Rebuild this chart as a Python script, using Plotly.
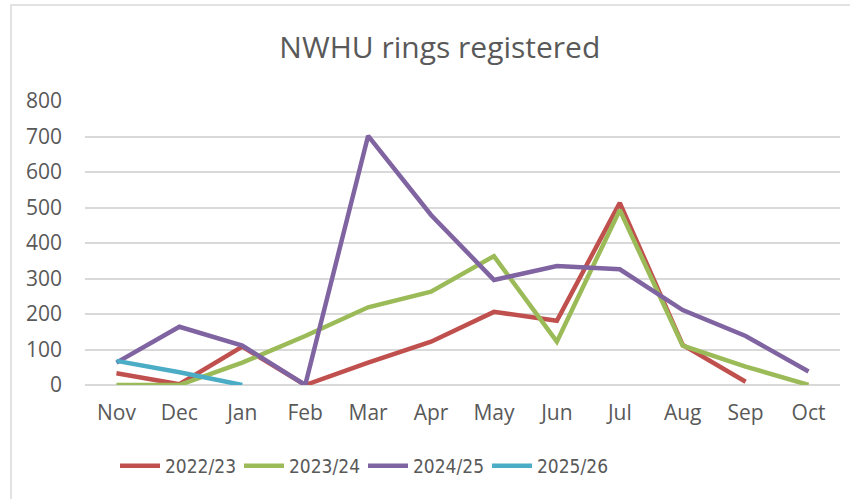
import plotly.graph_objects as go

months = ["Nov", "Dec", "Jan", "Feb", "Mar", "Apr", "May", "Jun", "Jul", "Aug", "Sep", "Oct"]
s2022 = [33, 2, 108, 0, 63, 122, 206, 181, 513, 113, 9, None]
s2023 = [0, 0, 63, 138, 219, 263, 363, 122, 493, 111, 52, 0]
s2024 = [63, 164, 111, 0, 702, 479, 296, 335, 326, 211, 138, 38]
s2025 = [68, 36, 0, None, None, None, None, None, None, None, None, None]

names = ["2022/23", "2023/24", "2024/25", "2025/26"]
colors = ["#C0504D", "#9BBB59", "#8064A2", "#4BACC6"]
series = [s2022, s2023, s2024, s2025]

FONT = "Open Sans, Lato, sans-serif"
LEGFONT = "Liberation Sans Narrow, DejaVu Sans Condensed, Open Sans, sans-serif"

fig = go.Figure()
for n, c, s in zip(names, colors, series):
    fig.add_trace(go.Scatter(x=months, y=s, name=n, mode="lines",
                             line=dict(color=c, width=4.5), connectgaps=False))

fig.update_layout(
    width=850, height=499,
    margin=dict(l=85, r=10, t=101, b=114, autoexpand=False),
    paper_bgcolor="white", plot_bgcolor="white",
    font=dict(family=FONT, color="#595959", size=21),
    title=dict(text="NWHU rings registered", x=0.47, xref="paper", xanchor="center",
               y=1 - 47 / 499, yref="container", yanchor="middle",
               font=dict(size=30, color="#595959", family=FONT)),
    xaxis=dict(range=[-0.5, 11.5], showgrid=False, showline=False, ticks="",
               tickfont=dict(size=21, color="#595959"), ticklabelstandoff=13),
    yaxis=dict(range=[0, 800], dtick=100, showgrid=True, gridcolor="#D9D9D9", gridwidth=1.5,
               zeroline=True, zerolinecolor="#D9D9D9", zerolinewidth=1.5,
               showline=False, ticks="", tickfont=dict(size=21, color="#595959"),
               ticklabelstandoff=22),
    legend=dict(orientation="h", x=(115 - 85) / 755, xanchor="left", y=(385 - 466) / 284,
                yanchor="middle", font=dict(size=19, color="#595959", family=LEGFONT),
                entrywidth=69, tracegroupgap=0, itemwidth=40),
    showlegend=True,
)
fig.add_shape(type="rect", xref="paper", yref="paper",
              x0=(11 - 85) / 755, x1=1.5, y0=-1.0, y1=(385 - 5) / 284,
              line=dict(color="#D9D9D9", width=1.5), fillcolor="rgba(0,0,0,0)", layer="below")

fig.write_html("out.html", config={"displayModeBar": False},
               post_script="document.body.style.margin='0';")
